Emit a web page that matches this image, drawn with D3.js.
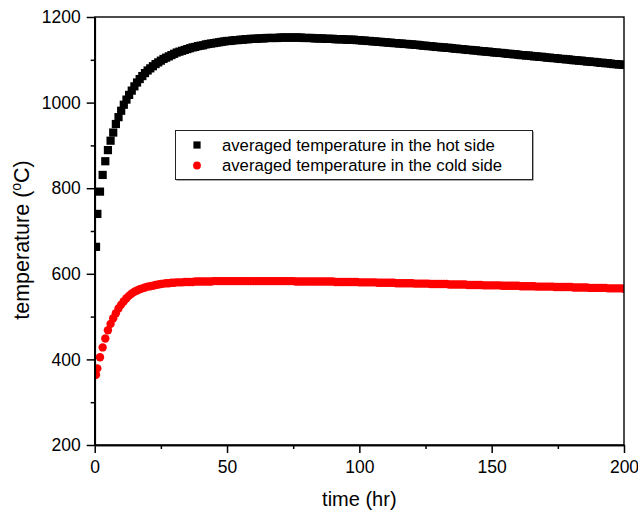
<!DOCTYPE html>
<html>
<head>
<meta charset="utf-8">
<script src="https://cdn.jsdelivr.net/npm/d3@7"></script>
<style>
  html, body { margin: 0; padding: 0; background: #fff; }
  svg { display: block; }
  text { font-family: Arial, "Liberation Sans", sans-serif; fill: #000; }
</style>
</head>
<body>
<svg id="chart" width="638" height="513"></svg>
<script>
// ---- data ----
const times = [0.5,1,2,3,4,5,6,7,8,9,
10,11,12,13,14,15,16,17,18,19,
20,21,22,23,24,25,26,27,28,29,
30,31,32,33,34,35,36,37,38,39,
40,41,42,43,44,45,46,47,48,49,
50,51,52,53,54,55,56,57,58,59,
60,61,62,63,64,65,66,67,68,69,
70,71,72,73,74,75,76,77,78,79,
80,81,82,83,84,85,86,87,88,89,
90,91,92,93,94,95,96,97,98,99,
100,101,102,103,104,105,106,107,108,109,
110,111,112,113,114,115,116,117,118,119,
120,121,122,123,124,125,126,127,128,129,
130,131,132,133,134,135,136,137,138,139,
140,141,142,143,144,145,146,147,148,149,
150,151,152,153,154,155,156,157,158,159,
160,161,162,163,164,165,166,167,168,169,
170,171,172,173,174,175,176,177,178,179,
180,181,182,183,184,185,186,187,188,189,
190,191,192,193,194,195,196,197,198,199,
200];

const hotSide = [663,740,792,831,863,889,911,930,950,966,
981,995,1007,1018,1028,1038,1047,1055,1062,1069,
1075,1080,1085,1090,1094,1098,1102,1105,1108,1111,
1114,1117,1119,1121,1123,1125,1127,1129,1130,1132,
1133,1134,1136,1137,1138,1139,1140,1141,1142,1143,
1144,1144,1145,1146,1146,1147,1147,1148,1148,1149,
1149,1149,1150,1150,1150,1151,1151,1151,1151,1151,
1152,1152,1152,1152,1152,1152,1152,1152,1152,1151,
1151,1151,1151,1150,1150,1150,1150,1149,1149,1149,
1149,1148,1148,1148,1148,1147,1147,1147,1147,1146,
1146,1145,1145,1144,1144,1143,1143,1142,1142,1141,
1141,1140,1140,1139,1139,1138,1138,1137,1137,1136,
1136,1135,1135,1134,1133,1133,1132,1132,1131,1130,
1130,1129,1129,1128,1128,1127,1126,1126,1125,1125,
1124,1123,1123,1122,1122,1121,1120,1120,1119,1119,
1118,1117,1117,1116,1116,1115,1114,1114,1113,1113,
1112,1111,1111,1110,1110,1109,1108,1108,1107,1107,
1106,1105,1105,1104,1104,1103,1102,1102,1101,1101,
1100,1099,1099,1098,1098,1097,1096,1096,1095,1095,
1094,1093,1093,1092,1092,1091,1090,1090,1089,1089,
1088];

const coldSide = [364,379,405,428,449,468,483,496,508,519,
528,536,543,549,554,558,561,564,566,568,
570,571,572,574,575,576,577,578,578,579,
579,580,580,580,581,581,581,581,582,582,
582,582,582,582,582,583,583,583,583,583,
583,583,583,583,583,583,583,583,583,583,
583,583,583,583,583,583,583,583,583,583,
583,583,583,583,583,583,582,582,582,582,
582,582,582,582,582,582,582,582,582,582,
582,581,581,581,581,581,581,581,581,581,
580,580,580,580,580,580,580,579,579,579,
579,579,579,579,578,578,578,578,578,578,
578,577,577,577,577,577,577,576,576,576,
576,576,576,576,575,575,575,575,575,575,
575,574,574,574,574,574,574,573,573,573,
573,573,573,573,572,572,572,572,572,572,
572,571,571,571,571,571,571,570,570,570,
570,570,570,570,569,569,569,569,569,569,
569,568,568,568,568,568,568,567,567,567,
567,567,567,567,566,566,566,566,566,566,
565];

const xTicks = [0, 50, 100, 150, 200];
const xMinorTicks = [25, 75, 125, 175];
const yTicks = [200, 400, 600, 800, 1000, 1200];
const yMinorTicks = [300, 500, 700, 900, 1100];
const seriesNames = ["averaged temperature in the hot side", "averaged temperature in the cold side"];
const xTitle = "time (hr)";

// ---- layout ----
const svg = d3.select("#chart");
const L = 94.7, R = 624, T = 17, B = 445;
const x = d3.scaleLinear().domain([0, 200]).range([L, R]);
const y = d3.scaleLinear().domain([200, 1200]).range([B, T]);

svg.append("defs").append("clipPath").attr("id", "clip")
  .append("rect").attr("x", L).attr("y", T).attr("width", R - L).attr("height", B - T);

// data markers
const plot = svg.append("g").attr("clip-path", "url(#clip)");
const sq = 8.2, cr = 4.2;
plot.append("g").selectAll("rect").data(times).join("rect")
  .attr("x", (d) => x(d) - sq / 2)
  .attr("y", (d, i) => y(hotSide[i]) - sq / 2)
  .attr("width", sq).attr("height", sq)
  .attr("fill", "#000");
plot.append("g").selectAll("circle").data(times).join("circle")
  .attr("cx", (d) => x(d))
  .attr("cy", (d, i) => y(coldSide[i]))
  .attr("r", cr)
  .attr("fill", "#ff0000");

// frame
svg.append("rect").attr("x", L).attr("y", T).attr("width", R - L).attr("height", B - T)
  .attr("fill", "none").attr("stroke", "#000").attr("stroke-width", 1.4);

// axes
function styleAxis(g) {
  g.select(".domain").attr("stroke", "#000").attr("stroke-width", 1.7);
  g.selectAll(".tick line").attr("stroke", "#000").attr("stroke-width", 1.5);
  g.selectAll(".tick text").attr("font-size", 17.5).attr("fill", "#111");
}
svg.append("g").attr("transform", `translate(0,${B})`)
  .call(d3.axisBottom(x).tickValues(xMinorTicks).tickSize(4).tickSizeOuter(0).tickFormat(""))
  .call(styleAxis);
svg.append("g").attr("transform", `translate(0,${B})`)
  .call(d3.axisBottom(x).tickValues(xTicks).tickSize(8).tickSizeOuter(0).tickPadding(8).tickFormat(d3.format("d")))
  .call(styleAxis);
svg.append("g").attr("transform", `translate(${L},0)`)
  .call(d3.axisLeft(y).tickValues(yMinorTicks).tickSize(4).tickSizeOuter(0).tickFormat(""))
  .call(styleAxis);
svg.append("g").attr("transform", `translate(${L},0)`)
  .call(d3.axisLeft(y).tickValues(yTicks).tickSize(8).tickSizeOuter(0).tickPadding(6).tickFormat(d3.format("d")))
  .call(styleAxis);
svg.selectAll(".domain").attr("fill", "none");

// axis titles
svg.append("text").attr("x", (L + R) / 2).attr("y", 506)
  .attr("text-anchor", "middle").attr("font-size", 20).attr("fill", "#111").text(xTitle);
const yt = svg.append("text")
  .attr("transform", "translate(29,240) rotate(-90)")
  .attr("text-anchor", "middle").attr("font-size", 21.5).attr("fill", "#111");
yt.append("tspan").text("temperature (");
yt.append("tspan").attr("font-size", 14).attr("dy", -8).text("o");
yt.append("tspan").attr("dy", 8).text("C)");

// legend
const lg = svg.append("g");
lg.append("rect").attr("x", 176.5).attr("y", 131.5).attr("width", 357).attr("height", 49)
  .attr("fill", "#555");
lg.append("rect").attr("x", 175.5).attr("y", 130.5).attr("width", 357).attr("height", 49)
  .attr("fill", "#fff").attr("stroke", "#222").attr("stroke-width", 1);
lg.append("rect").attr("x", 197 - 3.6).attr("y", 145 - 3.6).attr("width", 7.2).attr("height", 7.2).attr("fill", "#000");
lg.append("circle").attr("cx", 197).attr("cy", 165.5).attr("r", 3.9).attr("fill", "#ff0000");
lg.append("text").attr("x", 222).attr("y", 150.5).attr("font-size", 16.7).attr("fill", "#111").text(seriesNames[0]);
lg.append("text").attr("x", 222).attr("y", 171).attr("font-size", 16.7).attr("fill", "#111").text(seriesNames[1]);
</script>
</body>
</html>
